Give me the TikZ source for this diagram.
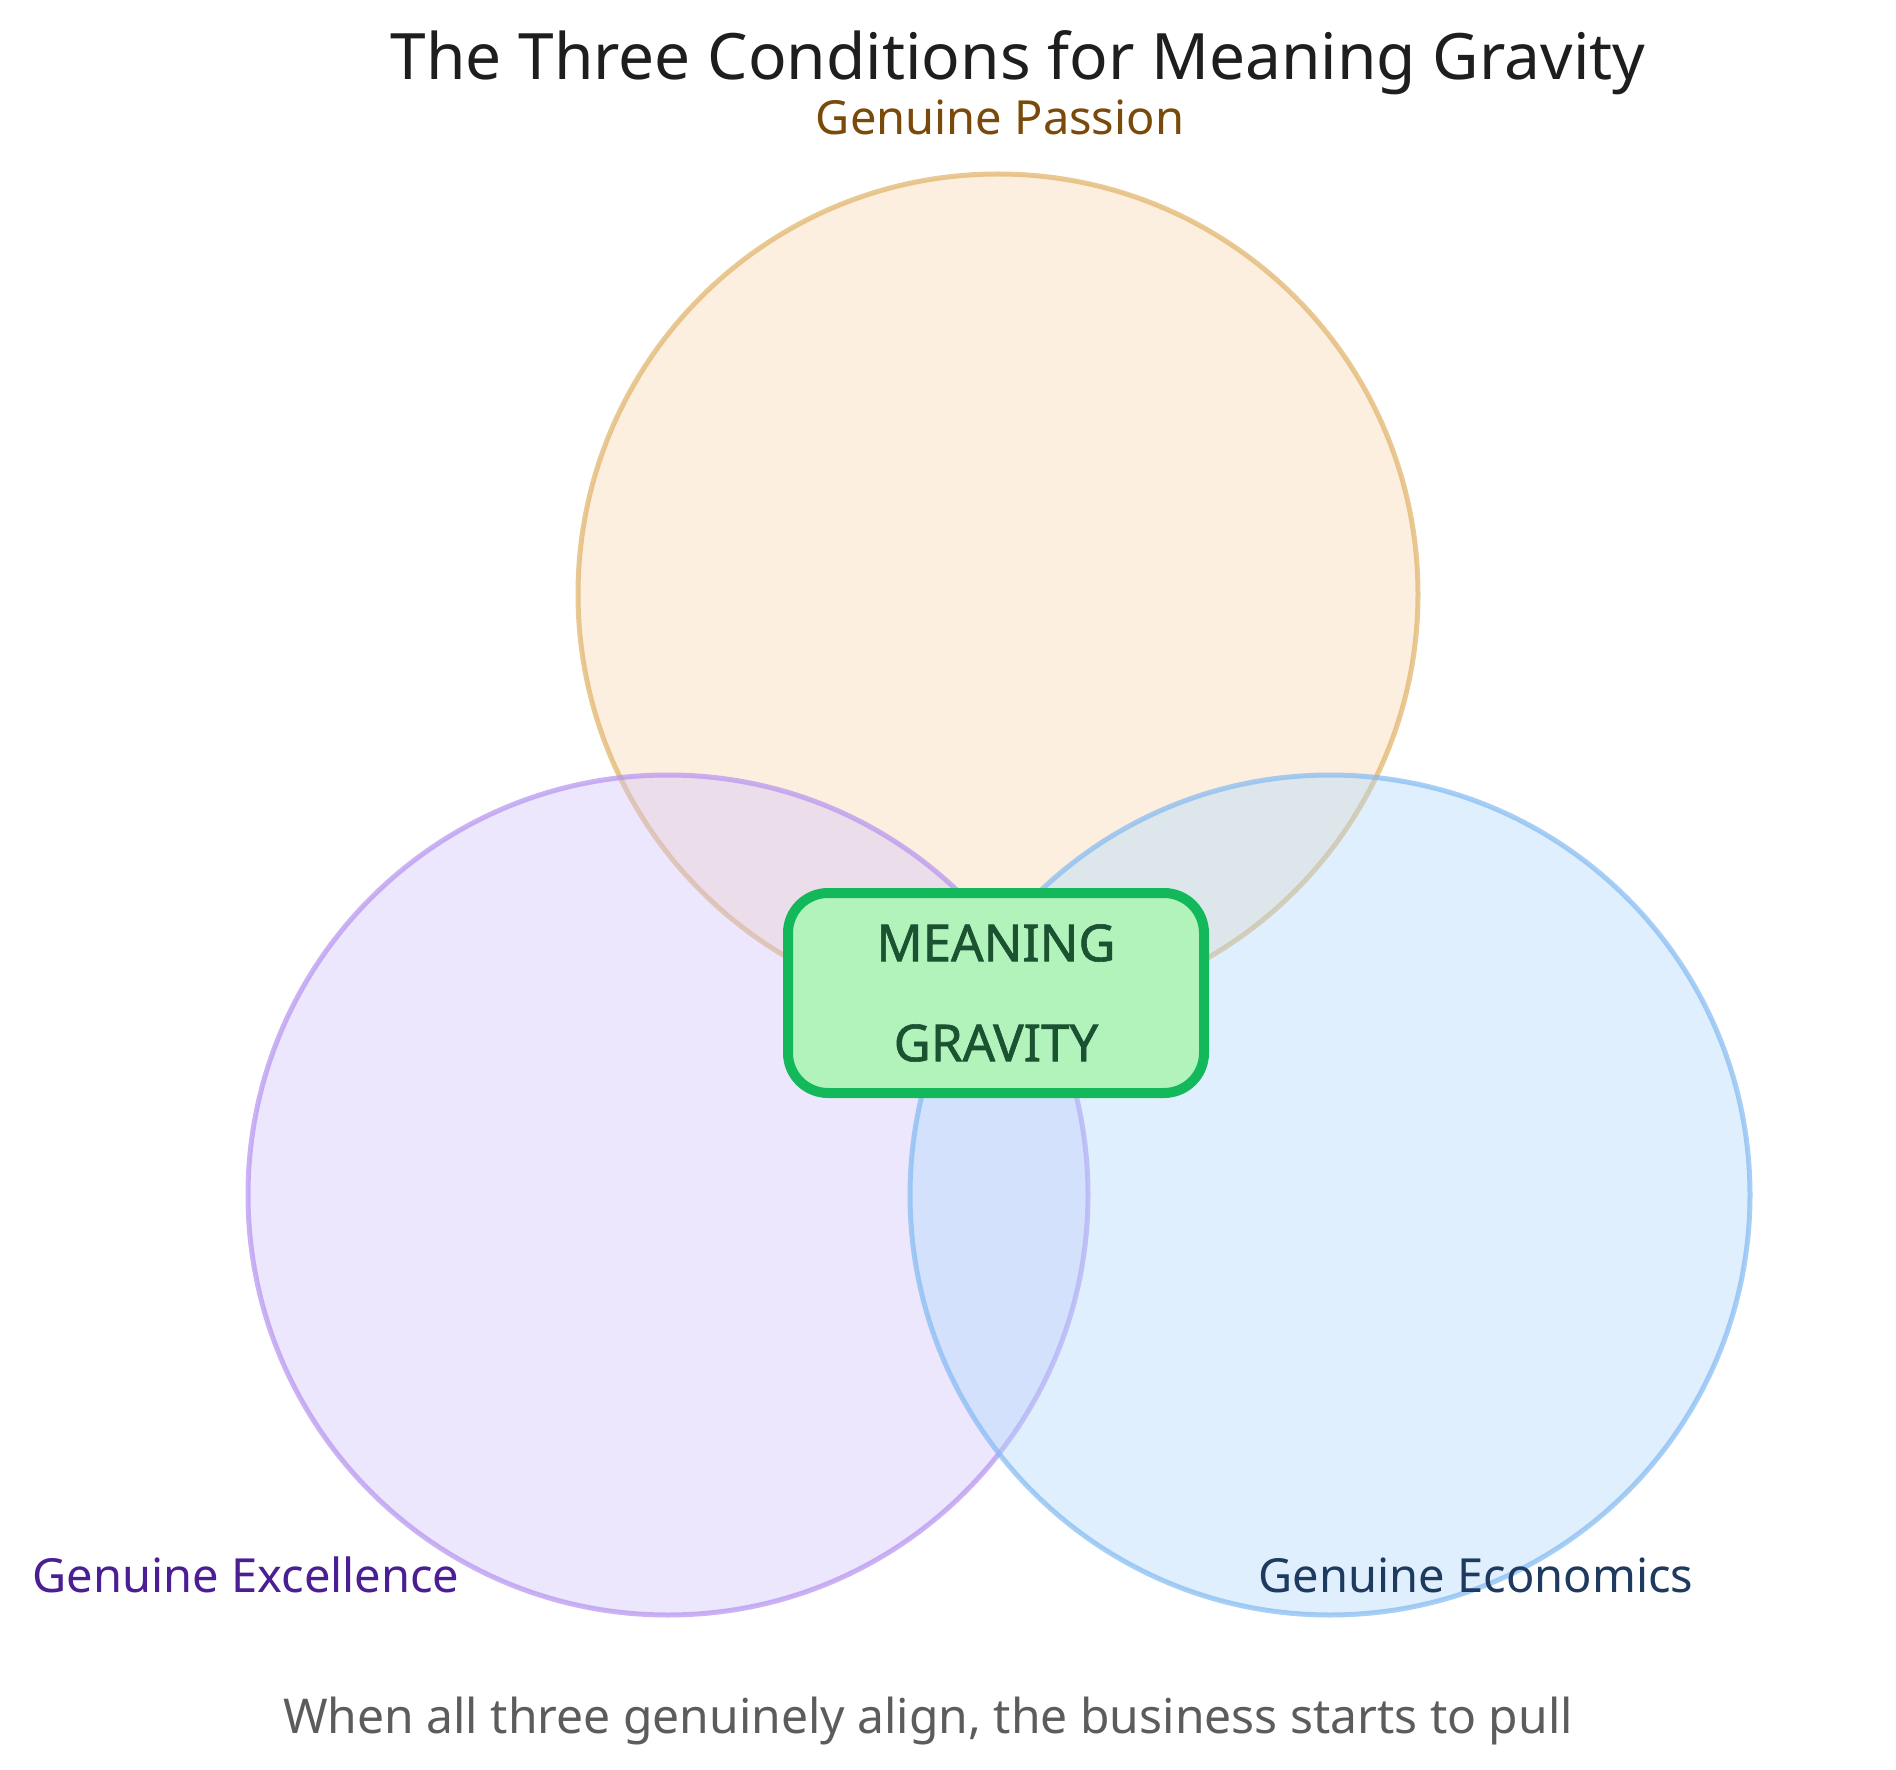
\documentclass[tikz,border=0pt]{standalone}
\usepackage{fontspec}
\setmainfont{Noto Sans}
\newfontfamily\gravfont{Noto Sans}[FakeBold=1.2]
\usepackage{tikz}
\usetikzlibrary{positioning}
\definecolor{titletext}{HTML}{1E1E1E}
\definecolor{notetext}{HTML}{5C5C5C}
\definecolor{passionfill}{HTML}{FAD9B1}
\definecolor{passiondraw}{HTML}{E0B266}
\definecolor{passiontext}{HTML}{7A4A0A}
\definecolor{excelfill}{HTML}{D2C3FC}
\definecolor{exceldraw}{HTML}{B592EF}
\definecolor{exceltext}{HTML}{4B1F93}
\definecolor{econfill}{HTML}{AFD9FC}
\definecolor{econdraw}{HTML}{83BAF1}
\definecolor{econtext}{HTML}{1E3A5F}
\definecolor{gravfill}{HTML}{B2F2BB}
\definecolor{gravdraw}{HTML}{12B85A}
\definecolor{gravtext}{HTML}{1A5232}

\begin{document}
\begin{tikzpicture}[x=0.5pt, y=-0.5pt,
    venn/.style={circle, minimum size=420pt, inner sep=0pt, line width=2.5pt, fill opacity=0.4, draw opacity=0.7},
    setlabel/.style={anchor=base, font=\fontsize{23.5}{28}\selectfont}]
    % Canvas
    \fill[white] (0,0) rectangle (1896,1770);
    \useasboundingbox (0,0) rectangle (1896,1770);

    % Define circles
    \node [venn, draw=passiondraw, fill=passionfill] (passion) at (998,594) {};
    \node [venn, draw=exceldraw, fill=excelfill] (excel) at (668,1195) {};
    \node [venn, draw=econdraw, fill=econfill] (econ) at (1330,1195) {};

    % Centre box
    \node [rectangle, rounded corners=20pt, minimum width=208pt, minimum height=100pt, line width=5pt, draw=gravdraw, fill=gravfill, text=gravtext, align=center, font=\gravfont\fontsize{25.5}{50}\selectfont] (gravity) at (996,993) {MEANING\\GRAVITY};

    % Labels for the three conditions
    \node [setlabel, text=passiontext] (passionlabel) at (1000,135) {Genuine Passion};
    \node [setlabel, text=exceltext] (excellabel) at (246,1592) {Genuine Excellence};
    \node [setlabel, text=econtext] (econlabel) at (1476,1592) {Genuine Economics};

    % Title and note
    \node [anchor=base, text=titletext, font=\fontsize{32}{38}\selectfont] (title) at (1018,80) {The Three Conditions for Meaning Gravity};
    \node [anchor=base, text=notetext, font=\fontsize{24}{28}\selectfont] (note) at (928,1733) {When all three genuinely align, the business starts to pull};

\end{tikzpicture}
\end{document}
